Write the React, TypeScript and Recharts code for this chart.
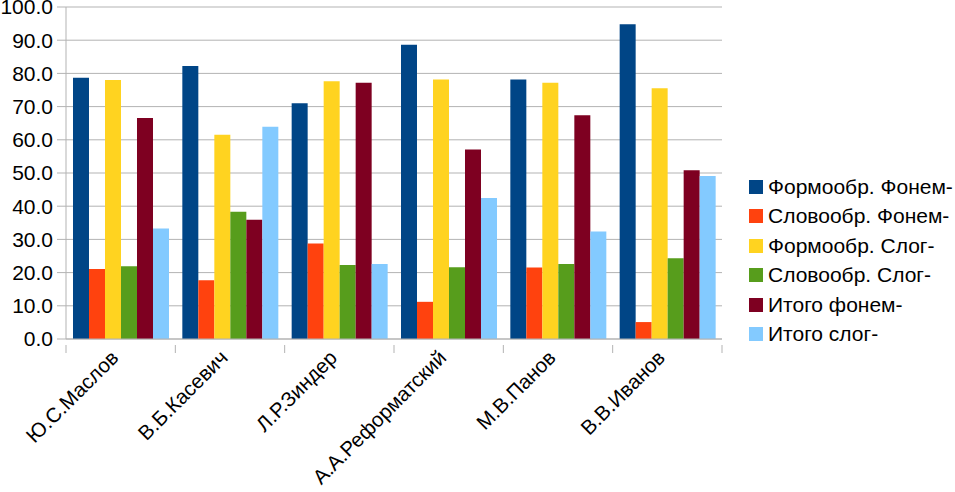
import { BarChart, Bar, XAxis, YAxis, CartesianGrid } from 'recharts'

const categories = ['Ю.С.Маслов', 'В.Б.Касевич', 'Л.Р.Зиндер', 'А.А.Реформатский', 'М.В.Панов', 'В.В.Иванов']

const formPhon = [78.7, 82.2, 71.0, 88.6, 78.2, 94.8]
const wordPhon = [21.1, 17.7, 28.8, 11.2, 21.5, 5.1]
const formSyl = [78.0, 61.5, 77.6, 78.2, 77.2, 75.5]
const wordSyl = [21.9, 38.3, 22.3, 21.6, 22.6, 24.3]
const totalPhon = [66.6, 35.9, 77.2, 57.1, 67.4, 50.8]
const totalSyl = [33.3, 63.9, 22.6, 42.5, 32.4, 49.1]

const yTicks = [0, 10, 20, 30, 40, 50, 60, 70, 80, 90, 100]

const series = [
  { key: 'formPhon', name: 'Формообр. Фонем-', color: '#004586', values: formPhon },
  { key: 'wordPhon', name: 'Словообр. Фонем-', color: '#ff420e', values: wordPhon },
  { key: 'formSyl', name: 'Формообр. Слог-', color: '#ffd320', values: formSyl },
  { key: 'wordSyl', name: 'Словообр. Слог-', color: '#579d1c', values: wordSyl },
  { key: 'totalPhon', name: 'Итого фонем-', color: '#7e0021', values: totalPhon },
  { key: 'totalSyl', name: 'Итого слог-', color: '#83caff', values: totalSyl },
]

const data = categories.map((name, i) => {
  const row: Record<string, string | number> = { name }
  series.forEach(s => { row[s.key] = s.values[i] })
  return row
})

const W = 955
const H = 492
const PLOT_LEFT = 66
const PLOT_RIGHT = 722
const GRID = '#b3b3b3'
const FONT = '"Liberation Sans", Arial, sans-serif'
const band = (PLOT_RIGHT - PLOT_LEFT) / categories.length

// category labels at 45°, tick marks sit on the category boundaries
function CategoryTick(props: any) {
  const { x, y, payload, index } = props
  const top = y - 8
  const tx = x - 1
  const ty = y + 6
  return (
    <g>
      <line x1={x - band / 2} y1={top} x2={x - band / 2} y2={top + 8} stroke={GRID} />
      {index === categories.length - 1 && (
        <line x1={x + band / 2} y1={top} x2={x + band / 2} y2={top + 8} stroke={GRID} />
      )}
      <text
        x={tx}
        y={ty}
        textAnchor="end"
        fontSize={20.5}
        fill="#000"
        fontFamily={FONT}
        transform={`rotate(-45 ${tx} ${ty})`}
      >
        {payload.value}
      </text>
    </g>
  )
}

export default function App() {
  return (
    <div style={{ position: 'absolute', left: 0, top: 0, width: W, height: H, background: '#fff', fontFamily: FONT }}>
      <BarChart
        width={W}
        height={H}
        data={data}
        margin={{ top: 7, right: W - PLOT_RIGHT, left: 0, bottom: 0 }}
        barCategoryGap="6.4%"
        barGap={0}
      >
        <CartesianGrid vertical={false} stroke={GRID} yAxisId="l" />
        <XAxis
          dataKey="name"
          height={153}
          interval={0}
          axisLine={{ stroke: GRID }}
          tickLine={false}
          tick={<CategoryTick />}
          tickMargin={8}
        />
        <YAxis
          yAxisId="l"
          width={PLOT_LEFT}
          domain={[0, 100]}
          ticks={yTicks}
          interval={0}
          axisLine={{ stroke: GRID }}
          tickLine={{ stroke: GRID }}
          tickSize={9}
          tickMargin={4}
          tickFormatter={(v: number) => v.toFixed(1)}
          tick={{ fontSize: 21, fill: '#000', fontFamily: FONT }}
        />
        <YAxis
          yAxisId="r"
          orientation="right"
          width={0}
          domain={[0, 100]}
          tick={false}
          tickLine={false}
          axisLine={{ stroke: GRID }}
        />
        {series.map(s => (
          <Bar
            key={s.key}
            yAxisId="l"
            dataKey={s.key}
            name={s.name}
            fill={s.color}
            isAnimationActive={false}
          />
        ))}
      </BarChart>
      <div style={{ position: 'absolute', left: 749, top: 172 }}>
        {series.map(s => (
          <div key={s.key} style={{ display: 'flex', alignItems: 'center', height: 29.5 }}>
            <span style={{ width: 14, height: 14, background: s.color, marginRight: 5, display: 'inline-block' }} />
            <span style={{ fontSize: 21, color: '#000', whiteSpace: 'nowrap' }}>{s.name}</span>
          </div>
        ))}
      </div>
    </div>
  )
}
